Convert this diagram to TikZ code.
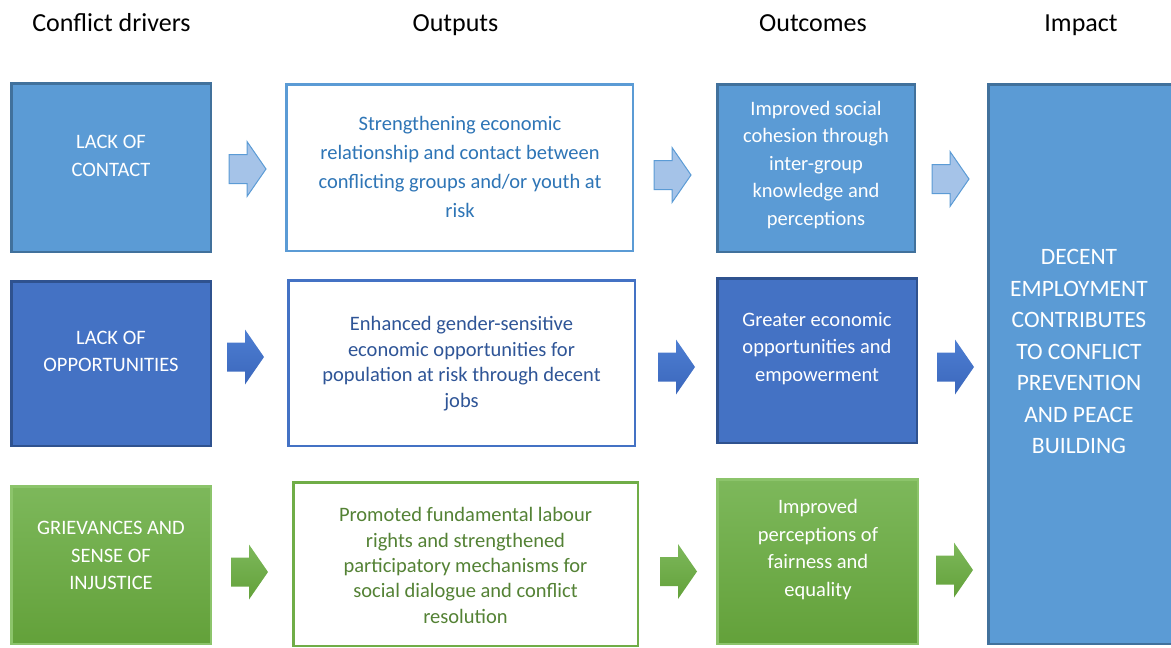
\documentclass[tikz,border=0pt]{standalone}
\usepackage{fontspec}
\setmainfont{Carlito}
\definecolor{paleblue}{HTML}{5B9BD5}
\definecolor{paleedge}{HTML}{41719C}
\definecolor{lightarrow}{HTML}{A5C3E8}
\definecolor{midblue}{HTML}{4472C4}
\definecolor{midedge}{HTML}{2F528F}
\definecolor{midtop}{HTML}{4D7ED2}
\definecolor{midbot}{HTML}{3B67BC}
\definecolor{leafgreen}{HTML}{70AD47}
\definecolor{greentop}{HTML}{7DB85B}
\definecolor{greenbot}{HTML}{63A13A}
\definecolor{greenedge}{HTML}{8CC46B}
\definecolor{outtxta}{HTML}{2E75B6}
\definecolor{outtxtb}{HTML}{2F5597}
\definecolor{outtxtc}{HTML}{548235}
\begin{document}
\begin{tikzpicture}[x=1pt, y=-1pt,
    head/.style={anchor=base, font=\fontsize{26}{30}\selectfont},
    panel/.style={rectangle, inner sep=0pt, line width=2.5pt},
    rowa/.style={panel, draw=paleedge, fill=paleblue},
    rowb/.style={panel, draw=midedge, fill=midblue},
    rowc/.style={panel, draw=greenedge, top color=greentop, bottom color=greenbot},
    outa/.style={panel, draw=paleblue, fill=white},
    outb/.style={panel, draw=midblue, fill=white},
    outc/.style={panel, draw=leafgreen, fill=white},
    txt/.style={align=center, inner sep=0pt, font=\fontsize{20.5}{#1}\selectfont},
    txt/.default=27.5,
    arrowa/.style={draw=paleblue, fill=lightarrow, line width=1pt},
    arrowb/.style={top color=midtop, bottom color=midbot},
    arrowc/.style={top color=greentop, bottom color=greenbot},
    blockarrow/.pic={\path[#1] (-18,-14.5) -- (0,-14.5) -- (0,-27.5) -- (19,0)
        -- (0,27.5) -- (0,14.5) -- (-18,14.5) -- cycle;}
  ]
  \useasboundingbox (0,0) rectangle (1171,648);

  % Column titles
  \node[head] (hdrivers) at (111.5,31) {Conflict drivers};
  \node[head] (houtputs) at (455.5,31) {Outputs};
  \node[head] (houtcomes) at (813,31) {Outcomes};
  \node[head] (himpact) at (1081,31) {Impact};

  % Conflict drivers
  \node[rowa, minimum width=199.5pt, minimum height=168.5pt] (d1) at (111,167.5) {};
  \node[rowb, minimum width=199.5pt, minimum height=164.5pt] (d2) at (111,363.5) {};
  \node[rowc, minimum width=199.5pt, minimum height=157.5pt] (d3) at (111,565) {};
  \node[txt, text=white] (d1t) at (111,156) {LACK OF\\CONTACT};
  \node[txt, text=white] (d2t) at (111,351.5) {LACK OF\\OPPORTUNITIES};
  \node[txt, text=white] (d3t) at (111,555.5) {GRIEVANCES AND\\SENSE OF\\INJUSTICE};

  % Outputs
  \node[outa, minimum width=346.5pt, minimum height=166.5pt] (o1) at (459.5,167.5) {};
  \node[outb, minimum width=346.5pt, minimum height=165.5pt] (o2) at (461.5,363) {};
  \node[outc, minimum width=344.5pt, minimum height=163.5pt] (o3) at (465.5,564) {};
  \node[txt=28.7, text=outtxta] (o1t) at (460,167)
    {Strengthening economic\\relationship and contact between\\conflicting groups and/or youth at\\risk};
  \node[txt=25.7, text=outtxtb] (o2t) at (461.5,363.5)
    {Enhanced gender-sensitive\\economic opportunities for\\population at risk through decent\\jobs};
  \node[txt=25.3, text=outtxtc] (o3t) at (465.5,565.5)
    {Promoted fundamental labour\\rights and strengthened\\participatory mechanisms for\\social dialogue and conflict\\resolution};

  % Outcomes
  \node[rowa, minimum width=197.5pt, minimum height=167.5pt] (c1) at (816,168) {};
  \node[rowb, minimum width=199.5pt, minimum height=164.5pt] (c2) at (817,360.5) {};
  \node[rowc, minimum width=200.5pt, minimum height=164.5pt] (c3) at (817.5,561.5) {};
  \node[txt, text=white] (c1t) at (816,165)
    {Improved social\\cohesion through\\inter-group\\knowledge and\\perceptions};
  \node[txt, text=white] (c2t) at (817,348.5) {Greater economic\\opportunities and\\empowerment};
  \node[txt, text=white] (c3t) at (818,549.5) {Improved\\perceptions of\\fairness and\\equality};

  % Impact
  \node[rowa, minimum width=190.5pt, minimum height=559.5pt] (imp) at (1083.5,364) {};
  \node[align=center, inner sep=0pt, text=white, font=\fontsize{23.5}{31.5}\selectfont] (impt) at (1079,351.5)
    {DECENT\\EMPLOYMENT\\CONTRIBUTES\\TO CONFLICT\\PREVENTION\\AND PEACE\\BUILDING};

  % Block arrows
  \pic at (247,169) {blockarrow=arrowa};
  \pic at (672,175) {blockarrow=arrowa};
  \pic at (950,179) {blockarrow=arrowa};
  \pic at (245,357) {blockarrow=arrowb};
  \pic at (676,367) {blockarrow=arrowb};
  \pic at (955,367) {blockarrow=arrowb};
  \pic at (249,572) {blockarrow=arrowc};
  \pic at (678,571.5) {blockarrow=arrowc};
  \pic at (954,570) {blockarrow=arrowc};
\end{tikzpicture}
\end{document}
